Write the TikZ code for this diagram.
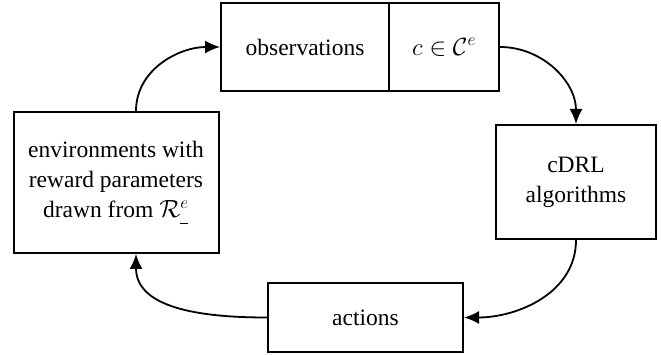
\documentclass[tikz,border=0pt]{standalone}
\usepackage{fontspec}
\setmainfont{Liberation Serif}
\usetikzlibrary{arrows.meta,calc}

\tikzset{
    box/.style={draw, line width=2pt, inner sep=2pt, align=center,
        font=\fontsize{23.5}{30}\selectfont},
    loop/.style={line width=1.8pt, -{Latex[length=15pt,width=13pt]}}
}

\begin{document}
\begin{tikzpicture}[x=1pt,y=-1pt]
    \useasboundingbox (0,0) rectangle (661,355);
    % Bloki
    \node[box, minimum width=168pt, minimum height=88pt] (obs) at (305,47) {observations};
    \node[box, minimum width=110pt, minimum height=88pt] (ctx) at (444,47) {$c\in\mathcal{C}^{e}$};
    \node[box, minimum width=160pt, minimum height=114pt] (alg) at (576,182) {cDRL\\algorithms};
    \node[box, minimum width=195pt, minimum height=69pt] (act) at (365.5,317.5) {actions};
    \node[box, minimum width=205pt, minimum height=141pt] (env) at (116,182.5)
        {environments with\\reward parameters\\drawn from $\mathcal{R}^{e}_{\rule[-1pt]{8pt}{1.2pt}}$};
    % Punkty zaczepienia strzalek
    \coordinate (envtop) at ($(env.north)+(20,0)$);
    \coordinate (envbot) at ($(env.south)+(20,0)$);
    % Strzalki
    \draw[loop] (envtop) to[out=90, in=180] (obs.west);
    \draw[loop] (ctx.east) to[out=0, in=90] (alg.north);
    \draw[loop] (alg.south) to[out=-90, in=0] (act.east);
    \draw[loop] (act.west) to[out=180, in=-90] (envbot);
\end{tikzpicture}
\end{document}
